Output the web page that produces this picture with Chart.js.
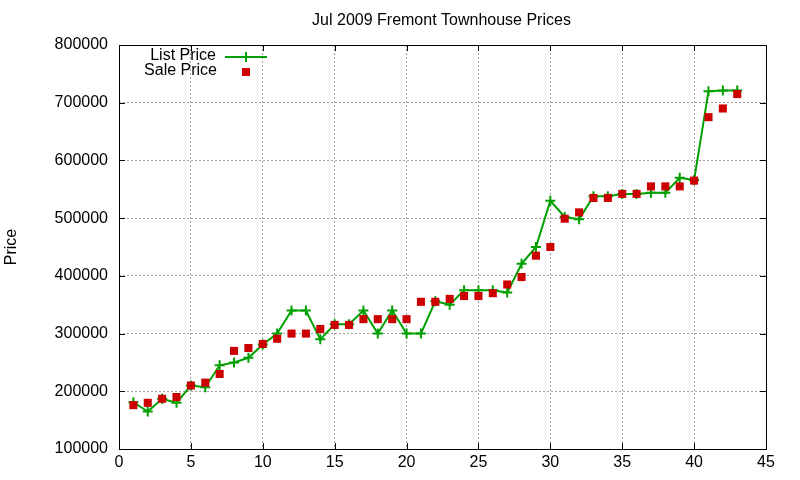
<!DOCTYPE html>
<html>
<head>
<meta charset="utf-8">
<script src="https://cdn.jsdelivr.net/npm/chart.js@4/dist/chart.umd.min.js"></script>
<style>
html,body{margin:0;padding:0;background:#fff;}
#c{display:block;}
</style>
</head>
<body>
<canvas id="c" width="800" height="480"></canvas>
<script>
const titleText = 'Jul 2009 Fremont Townhouse Prices';
const seriesNames = ['List Price', 'Sale Price'];
const yAxisLabel = 'Price';
const xIndex = [1,2,3,4,5,6,7,8,9,10,11,12,13,14,15,16,17,18,19,20,21,22,23,24,25,26,27,28,29,30,31,32,33,34,35,36,37,38,39,40,41,42,43];
const listPrice = [181000,165000,187000,180000,210000,207000,245000,250000,258000,281000,300000,340000,340000,290000,316000,316000,340000,300000,340000,300000,300000,356000,350000,375000,375000,375000,371000,421000,450000,530000,502000,498000,538000,538000,542000,542000,544000,544000,570000,566000,720000,721000,721000];
const salePrice = [176000,180000,187000,190000,210000,215000,230000,270000,275000,282000,291000,300000,300000,308000,315000,315000,325000,325000,325000,325000,355000,355000,360000,365000,365000,370000,385000,398000,435000,450000,499000,510000,535000,535000,542000,542000,555000,555000,555000,565000,675000,690000,715000];
const xTicksMin = 0, xTicksMax = 45, xStep = 5;
const yTicksMin = 100000, yTicksMax = 800000, yStep = 100000;

const GREEN = '#00a000';
const RED = '#cc0000';
const FONT = '"Liberation Sans", Arial, sans-serif';

const gnuplotDecor = {
  id: 'gnuplotDecor',
  afterDatasetsDraw(chart) {
    const ctx = chart.ctx;
    const a = chart.chartArea;
    const xs = chart.scales.x, ys = chart.scales.y;
    ctx.save();
    // title, centred over the plot area
    ctx.font = '16px ' + FONT;
    ctx.fillStyle = '#000';
    ctx.textAlign = 'center';
    ctx.textBaseline = 'middle';
    ctx.fillText(titleText, (a.left + a.right) / 2 - 1, 21);
    // border
    ctx.strokeStyle = '#000';
    ctx.lineWidth = 1;
    ctx.strokeRect(Math.round(a.left) + 0.5, Math.round(a.top) + 0.5, Math.round(a.right - a.left), Math.round(a.bottom - a.top));
    // ticks (inward, mirrored)
    const tl = 6;
    ctx.beginPath();
    xs.ticks.forEach(t => {
      const px = Math.round(xs.getPixelForValue(t.value)) + 0.5;
      ctx.moveTo(px, a.bottom); ctx.lineTo(px, a.bottom - tl);
      ctx.moveTo(px, a.top); ctx.lineTo(px, a.top + tl);
    });
    ys.ticks.forEach(t => {
      const py = Math.round(ys.getPixelForValue(t.value)) + 0.5;
      ctx.moveTo(a.left, py); ctx.lineTo(a.left + tl, py);
      ctx.moveTo(a.right, py); ctx.lineTo(a.right - tl, py);
    });
    ctx.stroke();
    // legend
    ctx.font = '16px ' + FONT;
    ctx.fillStyle = '#000';
    ctx.textAlign = 'right';
    ctx.textBaseline = 'middle';
    ctx.fillText(seriesNames[0], 216, 56);
    ctx.fillText(seriesNames[1], 217, 71);
    ctx.strokeStyle = GREEN;
    ctx.lineWidth = 2;
    ctx.beginPath();
    ctx.moveTo(225, 57); ctx.lineTo(267, 57);
    ctx.moveTo(246, 52); ctx.lineTo(246, 62);
    ctx.stroke();
    ctx.fillStyle = RED;
    ctx.fillRect(242, 68, 8, 8);
    ctx.restore();
  }
};

new Chart(document.getElementById('c'), {
  type: 'line',
  data: {
    datasets: [
      {
        label: seriesNames[0],
        data: xIndex.map((x, i) => ({x: x, y: listPrice[i]})),
        borderColor: GREEN,
        backgroundColor: GREEN,
        borderWidth: 2,
        pointStyle: 'cross',
        pointRadius: 5,
        pointBorderWidth: 2,
        pointBorderColor: GREEN,
        tension: 0,
        fill: false,
        order: 1
      },
      {
        label: seriesNames[1],
        data: xIndex.map((x, i) => ({x: x, y: salePrice[i]})),
        showLine: false,
        borderColor: RED,
        backgroundColor: RED,
        pointStyle: 'rect',
        pointRadius: 5.7,
        pointBorderWidth: 0,
        order: 0
      }
    ]
  },
  options: {
    responsive: false,
    animation: false,
    devicePixelRatio: 1,
    layout: { padding: { left: 0, right: 34, top: 45, bottom: 0 } },
    plugins: {
      legend: { display: false },
      tooltip: { enabled: false },
      title: { display: false }
    },
    scales: {
      x: {
        type: 'linear',
        min: xTicksMin, max: xTicksMax,
        ticks: { stepSize: xStep, color: '#000', font: { family: FONT, size: 16 }, padding: 4, maxRotation: 0 },
        grid: { color: '#a0a0a0', lineWidth: 1, drawTicks: false },
        border: { display: false, dash: [2, 2] },
        afterFit: s => { s.height = 31; }
      },
      y: {
        type: 'linear',
        min: yTicksMin, max: yTicksMax,
        ticks: { stepSize: yStep, color: '#000', font: { family: FONT, size: 16 }, padding: 11, callback: v => String(v) },
        grid: { color: '#a0a0a0', lineWidth: 1, drawTicks: false },
        border: { display: false, dash: [2, 2] },
        title: { display: true, text: yAxisLabel, color: '#000', font: { family: FONT, size: 16 }, padding: { top: 2, bottom: 0 } },
        afterFit: s => { s.width = 119; }
      }
    }
  },
  plugins: [gnuplotDecor]
});
</script>
</body>
</html>
